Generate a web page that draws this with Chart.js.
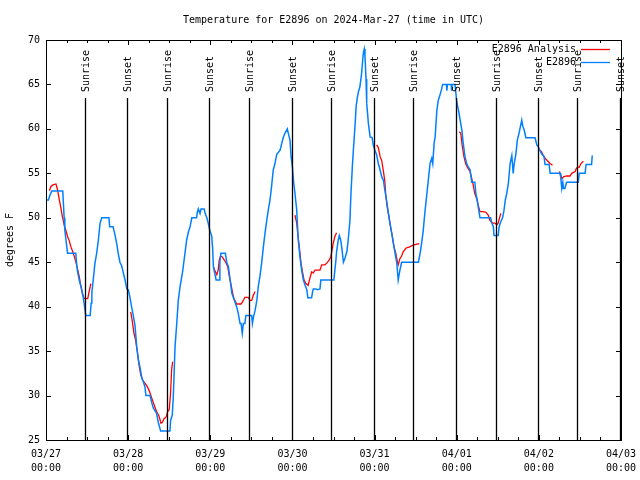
<!DOCTYPE html>
<html>
<head>
<meta charset="utf-8">
<script src="https://cdn.jsdelivr.net/npm/chart.js@4.4.1/dist/chart.umd.min.js"></script>
<style>
  body { margin: 0; background: #fff; }
  canvas { display: block; }
</style>
</head>
<body>
<canvas id="myChart" width="640" height="480"></canvas>
<script>
// hours since 2024-03-27 00:00 UTC, temperature in deg F
const obsSeries = [
  [0,52],[0.7,52],[1.2,52.6],[1.7,53],[4.9,53],[5.3,50],[5.5,48.6],[6.0,47],[6.3,46],[8.7,46],[8.9,45],[9.2,44],[9.7,43],
  [10.4,42],[10.9,41],[11.2,40.2],[11.6,39],[12.9,39],[13.2,40.4],[13.4,41.6],[13.8,43],[14.3,44.9],[14.8,46],[15.3,47.5],
  [15.8,49.4],[16.3,50],[18.4,50],[18.6,49],[19.6,49],[20.2,48],[20.7,47],[21.1,46],[21.6,45],[22.1,44.6],[22.6,43.8],
  [23.1,43],[23.6,42],[24.05,41.9],[24.5,41.1],[25.0,40],[25.5,39],[26.0,37.9],[26.5,35.5],[27.0,34],[27.5,33.1],[28.0,32],
  [28.4,31.6],[28.9,31],[29.2,30],[30.4,30],[30.9,29.2],[31.35,28.6],[32.3,28],[32.8,27],[33.5,26],[36.2,26],[36.4,27.2],
  [36.9,27.8],[37.2,29.9],[37.7,35.5],[38.2,38.1],[38.65,40.7],[39.15,42.2],[39.9,43.9],[40.6,46],[41.1,47.5],[41.6,48.4],
  [42.1,49],[42.6,50],[44.0,50],[44.2,50.6],[44.5,51],[45.0,50.5],[45.3,51],[46.2,51],[46.5,50.5],[47.0,50],[47.4,49.4],
  [47.9,48.5],[48.4,48],[48.7,46.5],[48.9,44.5],[49.7,43],[50.6,43],[50.8,45],[51.1,46],[52.4,46],[52.8,45],[53.3,44.5],
  [53.8,43],[54.3,41.5],[54.7,41.1],[55.7,40],[56.2,39.2],[56.7,38.1],[57.0,38.1],[57.35,37],[57.65,38.1],[58.1,38.1],
  [58.4,39],[60.1,39],[60.3,38.1],[60.6,38.8],[61.1,39.6],[61.6,40.7],[62.0,42.2],[62.5,43.4],[63.0,44.9],[63.5,46.7],
  [64.0,48.3],[64.5,49.7],[64.95,50.9],[65.45,52],[65.9,53.5],[66.4,55.4],[66.9,56.1],[67.4,57.1],[68.4,57.6],[68.9,58.4],
  [69.3,59],[69.8,59.5],[70.5,60],[70.8,59.5],[71.3,58.7],[71.6,56.9],[72.0,55.7],[72.3,54.2],[72.75,52.7],[73.25,50.9],
  [73.5,49],[73.7,47.5],[74.2,45.6],[74.7,44.1],[75.2,43],[75.7,42.4],[76.2,41.9],[76.5,41],[77.6,41],[77.9,41.7],[78.1,42],
  [78.9,42],[79.3,41.9],[80.05,42],[80.3,43],[84.1,43],[84.4,44.1],[84.7,45.2],[84.9,46.2],[85.4,47.5],[85.7,48],[86.1,47.5],
  [86.4,46.7],[86.9,45],[87.4,45.5],[87.9,46.2],[88.3,47.5],[88.8,49.7],[89.1,52.7],[89.5,55.7],[89.8,57.6],[90.0,58.7],
  [90.4,61],[90.6,62.5],[91.0,63.6],[91.3,64.2],[91.7,64.7],[92.2,66.2],[92.7,68.5],[93.0,69],[93.2,68.2],[93.5,65.6],
  [93.7,62.9],[94.2,60.6],[94.7,59.1],[95.3,59],[95.6,58.2],[96.1,57.6],[96.6,57.1],[97.1,56.1],[97.6,55.4],[98.1,54.6],
  [98.6,54.2],[99.0,53.1],[99.5,52],[100.0,50.6],[100.5,49.4],[101.0,48.3],[101.5,47.1],[102.0,46],[102.5,44.9],[102.9,43],
  [103.4,44.1],[103.9,45],[108.8,45],[109.3,46],[109.8,47.3],[110.2,48.5],[110.7,50.6],[111.2,52.4],[111.7,54.2],[112.2,56.1],
  [112.7,56.7],[113.0,56.1],[113.4,58.4],[113.7,59.1],[114.2,62.1],[114.6,63.2],[115.1,63.8],[115.6,64.5],[115.9,65],[117.0,65],
  [117.1,64.3],[117.3,65],[118.4,65],[118.5,64.3],[118.7,65],[119.5,65],[120.0,63.1],[120.5,62.1],[121.0,61],[121.5,59.9],
  [121.9,58.4],[122.4,56.9],[122.9,56.1],[123.4,55.7],[123.9,55.4],[124.4,54],[125.3,54],[125.6,52.7],[126.0,52],[126.3,51.2],
  [126.8,50],[129.9,50],[130.2,49.5],[130.7,49],[130.9,48],[132.1,48],[132.4,49],[132.8,49.5],[133.4,50],[133.8,50.8],
  [134.2,52],[134.6,52.7],[135.1,53.9],[135.6,56.1],[136.1,57],[136.5,55],[136.8,56.1],[137.3,57.2],[137.7,58.7],[138.2,59.5],
  [139.0,61],[139.3,60.3],[139.7,59.9],[140.2,59],[142.9,59],[143.4,58.2],[143.8,58],[144.3,57.6],[144.8,57.2],[145.5,56.9],
  [145.8,56],[147.0,56],[147.3,55],[150.2,55],[150.4,54.5],[150.7,53.3],[151.0,54],[151.2,53.3],[151.6,53.3],[152.1,54],
  [155.5,54],[155.8,55],[157.5,55],[157.8,56],[159.4,56],[159.6,57]
];

// analysis, null = gap
const analysisSeries = [
  [1.0,53.05],[1.4,53.5],[2.0,53.7],[2.9,53.8],[3.3,53.3],[3.8,52.2],[4.3,51.2],[4.8,50.1],[5.3,49.2],[5.8,48.6],[6.3,47.9],
  [6.8,47.4],[7.3,46.7],[7.8,46.2],[8.3,45.6],[8.8,44.9],[9.3,44.1],[9.7,43.4],[10.1,42.5],[10.6,41.5],[11.2,40.9],[12.2,40.9],
  [12.6,41.7],[13.1,42.6],
  [18,null],
  [24.75,39.4],[25.2,38.4],[25.7,37],[26.2,36.2],[26.7,34.9],[27.2,33.4],[27.7,32.3],[28.25,31.7],[28.9,31.4],[29.6,31],
  [30.2,30.5],[30.9,29.7],[31.55,29],[32.3,28.2],[33.0,27.7],[33.6,26.9],[34.0,27.0],[34.5,27.4],[35.1,27.6],[35.55,28.2],
  [36.0,28.4],[36.4,30.3],[36.7,32.9],[37.0,33.8],
  [42,null],
  [48.9,44.5],[49.4,44],[49.9,43.6],[50.3,44.1],[50.6,45.2],[51.0,45.7],[51.5,45.6],[52.0,45.3],[52.5,45],[53.1,44.5],
  [53.55,43.4],[54.0,42.6],[54.55,41.5],[54.9,40.9],[55.2,40.7],[55.7,40.3],[57.0,40.3],[57.65,40.7],[58.1,41.05],[59.1,41.05],
  [59.6,40.7],[60.1,40.7],[60.6,41.3],[61.1,41.7],
  [66,null],
  [72.75,50.3],[73.25,49.4],[73.5,48.4],[73.9,47.1],[74.2,46],[74.5,44.9],[74.9,44],[75.4,43],[75.95,42.6],[76.6,42.4],
  [77.1,43.2],[77.6,43.9],[78.1,43.8],[78.6,44.1],[80.05,44.1],[80.55,44.7],[81.5,44.7],[82.0,44.9],[82.7,45.2],[83.2,45.6],
  [83.5,46.2],[83.9,47.1],[84.4,47.9],[84.9,48.3],
  [90,null],
  [96.6,58.2],[97.1,57.9],[97.6,56.9],[98.1,56.4],[98.6,55.2],[99.0,54.1],[99.3,52.4],[99.7,51.2],[100.2,50.1],[100.7,48.9],
  [101.2,47.9],[101.7,46.7],[102.2,46],[102.75,44.9],[102.9,44.7],[103.4,45.4],[103.9,45.7],[104.4,46.2],[105.2,46.6],
  [106.1,46.7],[107.1,46.9],[108.1,47],[109.1,47.1],
  [115,null],
  [120.75,59.7],[121.2,59.5],[121.6,58.1],[122.1,56.9],[122.6,56.1],[123.1,55.7],[123.9,55.2],[124.4,54.4],[124.8,53.7],
  [125.3,52.7],[125.8,52.2],[126.3,51.4],[126.8,50.7],[127.8,50.7],[128.6,50.6],[129.2,50.3],[129.7,49.7],[130.5,49.4],
  [131.2,49.4],[131.7,49.2],[132.1,49.4],[132.6,50.1],[132.9,50.5],
  [138,null],
  [144.3,57.6],[144.8,57.4],[145.3,57],[145.8,56.7],[146.3,56.5],[147.25,56.1],[148.0,55.9],
  [149,null],
  [150.0,55.2],[150.7,54.4],[151.2,54.6],[152.1,54.7],[153.1,54.7],[153.6,55],[154.6,55.2],[155.0,55.6],[155.8,55.7],
  [156.3,56.1],[157.0,56.35]
];

const sunriseHours = [11.48, 35.44, 59.4, 83.36, 107.3, 131.4, 155.2];
const sunsetHours = [23.75, 47.71, 71.96, 95.92, 119.8, 143.8, 167.75];
const xTickLabels = ['03/27', '03/28', '03/29', '03/30', '03/31', '04/01', '04/02', '04/03'];
const yTicks = [25, 30, 35, 40, 45, 50, 55, 60, 65, 70];

const FONT = "'DejaVu Sans Mono', 'Liberation Mono', monospace";
Chart.defaults.font.family = FONT;
Chart.defaults.font.size = 10;
Chart.defaults.color = '#000';

const toXY = arr => arr.map(p => ({ x: p[0], y: p[1] }));

const gnuplotDecor = {
    id: 'gnuplotDecor',
    afterDatasetsDraw(chart) {
        const { ctx, chartArea: a, scales: { x } } = chart;
        ctx.save();
        // sunrise / sunset markers
        const events = [];
        sunriseHours.forEach(h => events.push({ h, name: 'Sunrise' }));
        sunsetHours.forEach(h => events.push({ h, name: 'Sunset' }));
        ctx.strokeStyle = '#000';
        ctx.fillStyle = '#000';
        ctx.lineWidth = 1.3;
        ctx.font = '10px ' + FONT;
        events.forEach(ev => {
            const px = Math.round(x.getPixelForValue(ev.h)) + 0.5;
            ctx.beginPath();
            ctx.moveTo(px, a.top + 58);
            ctx.lineTo(px, a.bottom);
            ctx.stroke();
            ctx.save();
            ctx.translate(px + 1, a.top + 52);
            ctx.rotate(-Math.PI / 2);
            ctx.textAlign = 'left';
            ctx.textBaseline = 'middle';
            ctx.fillText(ev.name, 0, 0);
            ctx.restore();
        });
        ctx.restore();
    },
    afterDraw(chart) {
        const { ctx, chartArea: a, scales: { x, y } } = chart;
        ctx.save();
        ctx.strokeStyle = '#000';
        ctx.lineWidth = 1;
        ctx.strokeRect(Math.round(a.left) + 0.5, Math.round(a.top) + 0.5,
            Math.round(a.right - a.left), Math.round(a.bottom - a.top));
        ctx.beginPath();
        for (let h = 0; h <= 168; h += 6) {
            const px = Math.round(x.getPixelForValue(h)) + 0.5;
            const len = h % 24 === 0 ? 5 : 3;
            ctx.moveTo(px, a.bottom); ctx.lineTo(px, a.bottom - len);
            ctx.moveTo(px, a.top); ctx.lineTo(px, a.top + len);
        }
        yTicks.forEach(v => {
            const py = Math.round(y.getPixelForValue(v)) + 0.5;
            ctx.moveTo(a.left, py); ctx.lineTo(a.left + 5, py);
            ctx.moveTo(a.right, py); ctx.lineTo(a.right - 5, py);
        });
        ctx.stroke();

        // title
        ctx.fillStyle = '#000';
        ctx.font = '10px ' + FONT;
        ctx.textAlign = 'center';
        ctx.textBaseline = 'middle';
        ctx.fillText('Temperature for E2896 on 2024-Mar-27 (time in UTC)', (a.left + a.right) / 2, 20);

        // key
        const keys = [
            { label: 'E2896 Analysis', color: '#ff0000' },
            { label: 'E2896', color: '#0080ff' }
        ];
        keys.forEach((k, i) => {
            const ky = a.top + 9.5 + i * 13;
            ctx.textAlign = 'right';
            ctx.fillStyle = '#000';
            ctx.fillText(k.label, a.right - 45, ky);
            ctx.strokeStyle = k.color;
            ctx.lineWidth = 1.3;
            ctx.beginPath();
            ctx.moveTo(a.right - 40, ky);
            ctx.lineTo(a.right - 11, ky);
            ctx.stroke();
        });
        ctx.restore();
    }
};

const ctx = document.getElementById('myChart').getContext('2d');
const chart = new Chart(ctx, {
    type: 'line',
    data: {
        datasets: [
            {
                label: 'E2896 Analysis',
                data: toXY(analysisSeries),
                borderColor: '#ff0000',
                borderWidth: 1.3,
                pointRadius: 0,
                spanGaps: false,
                tension: 0,
                order: 1
            },
            {
                label: 'E2896',
                data: toXY(obsSeries),
                borderColor: '#0080ff',
                borderWidth: 1.5,
                pointRadius: 0,
                tension: 0,
                order: 0
            }
        ]
    },
    options: {
        responsive: false,
        animation: false,
        layout: { padding: { top: 40, right: 19, left: 0, bottom: 0 } },
        plugins: {
            legend: { display: false },
            title: { display: false },
            tooltip: { enabled: false }
        },
        scales: {
            x: {
                type: 'linear',
                min: 0,
                max: 168,
                grid: { display: false, drawTicks: false },
                border: { display: false },
                ticks: {
                    stepSize: 24,
                    autoSkip: false,
                    maxRotation: 0,
                    padding: 8,
                    font: { size: 10, lineHeight: 1.35 },
                    callback: v => {
                        const i = Math.round(v / 24);
                        return [xTickLabels[i], '00:00'];
                    }
                },
                afterFit: scale => {
                    scale.height = 40;
                    scale.paddingLeft = 0;
                    scale.paddingRight = 0;
                }
            },
            y: {
                min: 25,
                max: 70,
                grid: { display: false, drawTicks: false },
                border: { display: false },
                ticks: { stepSize: 5, padding: 6 },
                title: { display: true, text: 'degrees F', padding: { top: 4, bottom: 0 } },
                afterFit: scale => { scale.width = 46; }
            }
        }
    },
    plugins: [gnuplotDecor]
});
</script>
</body>
</html>
